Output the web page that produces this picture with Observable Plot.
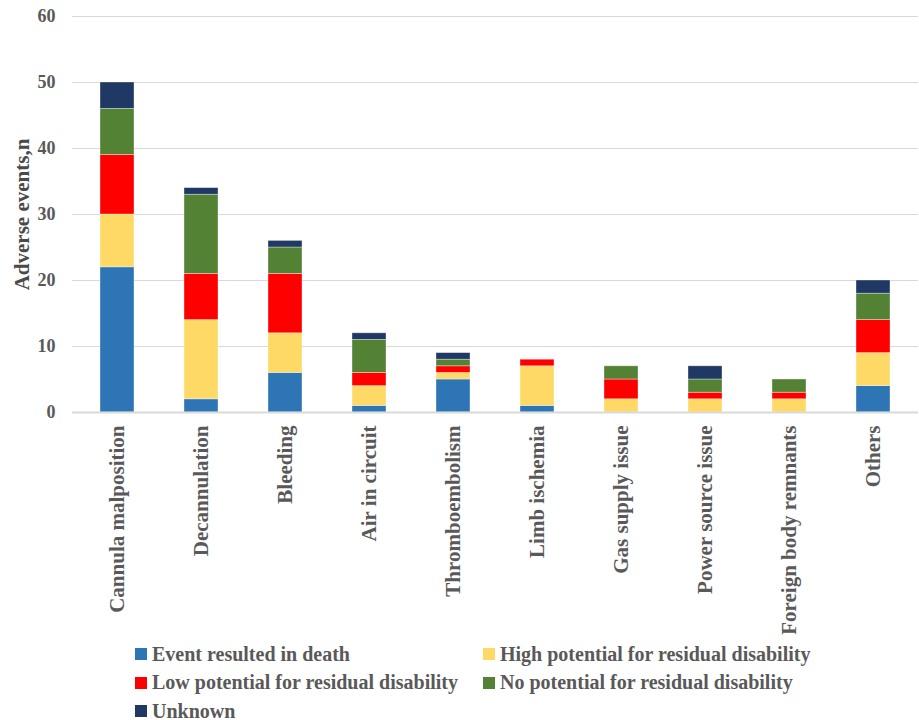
<!DOCTYPE html>
<html><head><meta charset="utf-8">
<script src="https://cdn.jsdelivr.net/npm/d3@7"></script>
<script src="https://cdn.jsdelivr.net/npm/@observablehq/plot@0.6"></script>
<style>
body{margin:0;background:#fff;width:919px;font-family:"Liberation Serif","Times New Roman",serif;}
#legend{display:grid;grid-template-columns:348px 420px;padding-left:135px;margin-top:0;row-gap:0;}
.it{display:flex;align-items:center;height:28.5px;font-weight:bold;font-size:20px;color:#595959;white-space:nowrap;}
.sw{width:12px;height:12px;margin-right:5px;flex:none;}
svg text{font-weight:bold;}
</style></head><body>
<div id="chart"></div>
<div id="legend"></div>
<script>
const categories = ["Cannula malposition","Decannulation","Bleeding","Air in circuit","Thromboembolism","Limb ischemia","Gas supply issue","Power source issue","Foreign body remnants","Others"];
const seriesNames = ["Event resulted in death","High potential for residual disability","Low potential for residual disability","No potential for residual disability","Unknown"];
const seriesColors = ["#2E75B6","#FFD966","#FF0000","#548235","#1F3864"];
const death   = [22, 2, 6, 1, 5, 1, 0, 0, 0, 4];
const high    = [ 8,12, 6, 3, 1, 6, 2, 2, 2, 5];
const low     = [ 9, 7, 9, 2, 1, 1, 3, 1, 1, 5];
const noPot   = [ 7,12, 4, 5, 1, 0, 2, 2, 2, 4];
const unknown = [ 4, 1, 1, 1, 1, 0, 0, 2, 0, 2];
const yTicks = [0,10,20,30,40,50,60];

const seriesValues = [death, high, low, noPot, unknown];
const rows = [];
seriesNames.forEach((s, si) => categories.forEach((c, ci) => rows.push({category: c, series: s, value: seriesValues[si][ci]})));

const chart = Plot.plot({
  width: 919, height: 640,
  marginTop: 16, marginBottom: 228, marginLeft: 72, marginRight: 1,
  style: {fontFamily: '"Liberation Serif","Times New Roman",serif', fontWeight: "bold", color: "#595959", fontSize: "18px"},
  x: {domain: categories, paddingInner: 0.6, paddingOuter: 0.28, align: 0.5, label: null},
  y: {domain: [0, 60], label: "Adverse events,n"},
  color: {domain: seriesNames, range: seriesColors},
  marks: [
    Plot.gridY(yTicks, {stroke: "#d9d9d9", strokeOpacity: 1, strokeWidth: 1}),
    Plot.barY(rows, Plot.stackY({x: "category", y: "value", fill: "series", order: seriesNames, stroke: "#ffffff", strokeOpacity: 0.45, strokeWidth: 0.8})),
    Plot.ruleY([0], {stroke: "#d9d9d9", strokeWidth: 2}),
    Plot.axisY({ticks: yTicks, tickSize: 0, tickPadding: 17, fontSize: 18, fontWeight: "bold", label: null}),
    Plot.text(["Adverse events,n"], {frameAnchor: "left", textAnchor: "middle", dx: -50, rotate: -90, fontSize: 21, fontWeight: "bold", fill: "#4a4a4a"}),
    Plot.axisX({tickSize: 0, tickRotate: -90, tickPadding: 13, fontSize: 21, fontWeight: "bold", label: null})
  ]
});
document.getElementById("chart").appendChild(chart);

const leg = document.getElementById("legend");
seriesNames.forEach((s, i) => {
  const d = document.createElement("div"); d.className = "it";
  d.innerHTML = `<span class="sw" style="background:${seriesColors[i]}"></span>${s}`;
  leg.appendChild(d);
});
</script></body></html>
